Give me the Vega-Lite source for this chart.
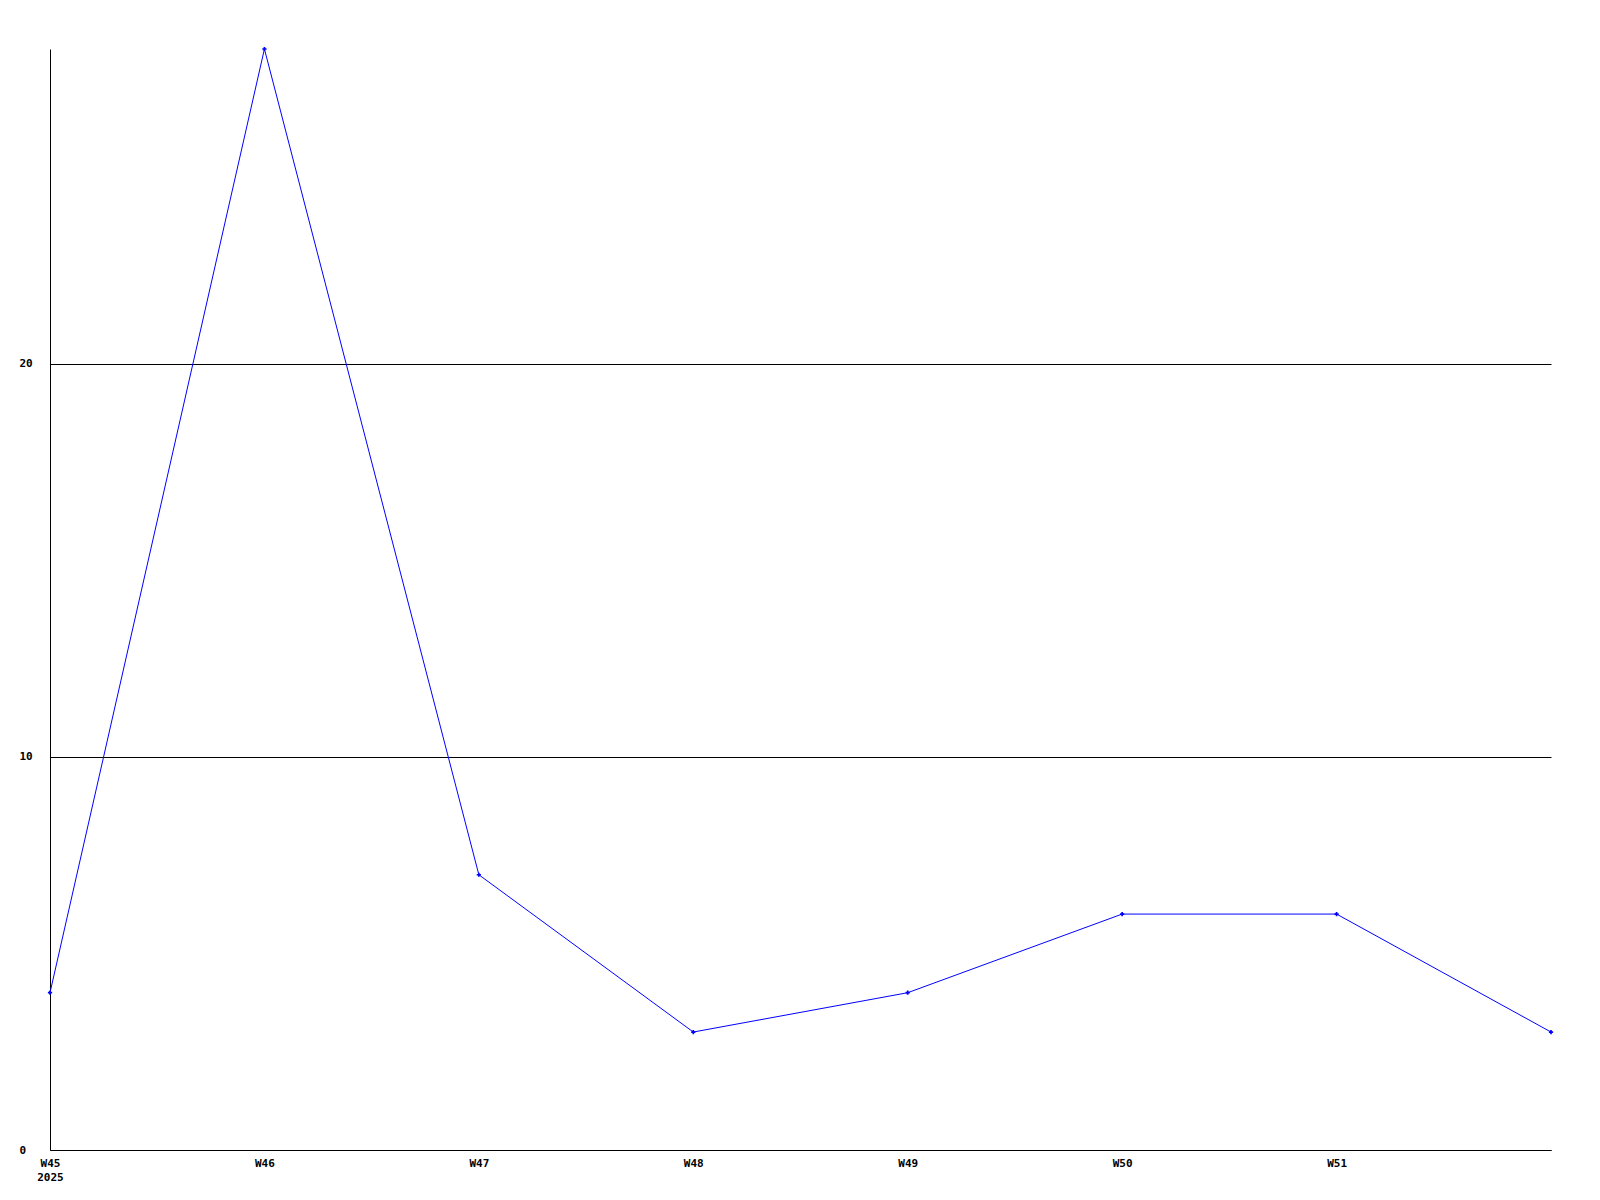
{
  "$schema": "https://vega.github.io/schema/vega-lite/v6.json",
  "width": 1501,
  "height": 1101,
  "autosize": {"type": "none"},
  "padding": {"left": 50, "top": 49, "right": 49, "bottom": 50},
  "background": "white",
  "config": {
    "view": {"stroke": null},
    "axis": {"labelFont": "DejaVu Sans Mono", "labelFontWeight": "bold", "labelFontSize": 11, "labelColor": "black"}
  },
  "data": {
    "values": [
      {"week": 45, "value": 4},
      {"week": 46, "value": 28},
      {"week": 47, "value": 7},
      {"week": 48, "value": 3},
      {"week": 49, "value": 4},
      {"week": 50, "value": 6},
      {"week": 51, "value": 6},
      {"week": 52, "value": 3}
    ]
  },
  "mark": {
    "type": "line",
    "color": "#0000ff",
    "strokeWidth": 1,
    "point": {"filled": true, "shape": "cross", "size": 18, "color": "#0000ff"}
  },
  "encoding": {
    "x": {
      "field": "week",
      "type": "quantitative",
      "scale": {"domain": [45, 52], "nice": false, "zero": false},
      "axis": {
        "title": null,
        "values": [45, 46, 47, 48, 49, 50, 51],
        "grid": false,
        "ticks": false,
        "tickSize": 0,
        "domainColor": "black",
        "domainWidth": 1,
        "labelPadding": 7,
        "labelLineHeight": 14,
        "labelFlush": false,
        "labelOverlap": false,
        "labelExpr": "datum.value == 45 ? ['W45', '2025'] : 'W' + datum.value"
      }
    },
    "y": {
      "field": "value",
      "type": "quantitative",
      "scale": {"domain": [0, 28], "nice": false},
      "axis": {
        "title": null,
        "values": [0, 10, 20],
        "grid": true,
        "gridColor": "black",
        "gridOpacity": 1,
        "gridWidth": 1,
        "ticks": false,
        "tickSize": 0,
        "domainColor": "black",
        "domainWidth": 1,
        "labelAlign": "left",
        "labelPadding": 31,
        "labelFlush": false,
        "labelOverlap": false
      }
    }
  }
}
